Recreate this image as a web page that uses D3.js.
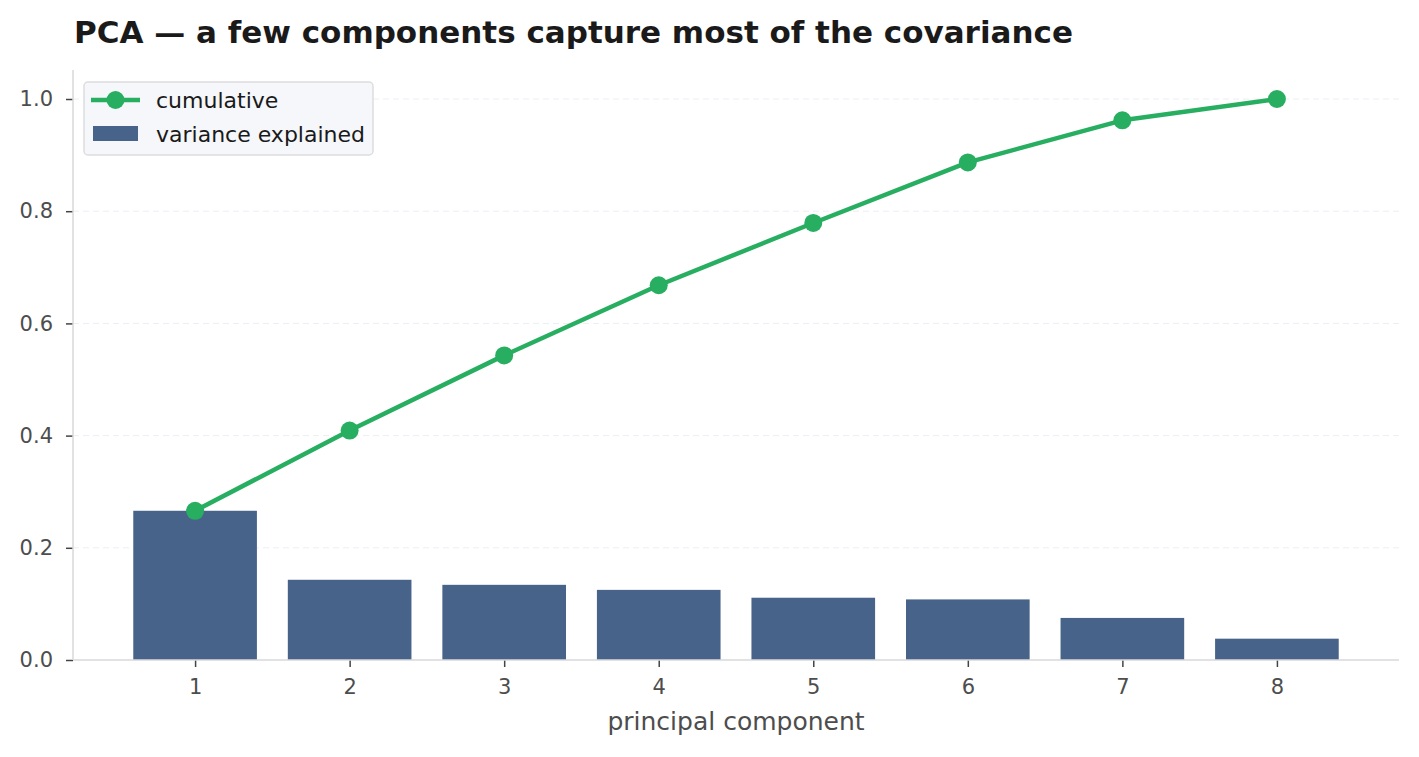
<!DOCTYPE html>
<html><head><meta charset="utf-8">
<script src="https://cdn.jsdelivr.net/npm/d3@7"></script>
<style>
body{margin:0;background:#fff;}
text{font-family:"DejaVu Sans",sans-serif;}
</style></head>
<body><svg id="c" width="1419" height="757"></svg>
<script>
const components = [1,2,3,4,5,6,7,8];
const varianceExplained = [0.266,0.143,0.134,0.125,0.111,0.108,0.075,0.038];
const cumulative = Array.from(d3.cumsum(varianceExplained));
const yTicks = [0.0,0.2,0.4,0.6,0.8,1.0];

const svg = d3.select("#c");
const L=73, R=1399, T=70, B=660;
const x = d3.scaleLinear().domain([0.21,8.79]).range([L,R]);
const y = d3.scaleLinear().domain([0,1.0517]).range([B,T]);
const bw = x(1.8)-x(1);

// grid
svg.append("g").selectAll("line").data(yTicks.slice(1)).join("line")
  .attr("x1",L).attr("x2",R).attr("y1",d=>y(d)).attr("y2",d=>y(d))
  .attr("stroke","#eceef3").attr("stroke-width",1).attr("stroke-dasharray","6,4");

// bars
svg.append("g").selectAll("rect").data(varianceExplained).join("rect")
  .attr("x",(d,i)=>x(components[i])-bw/2).attr("width",bw)
  .attr("y",d=>y(d)).attr("height",d=>y(0)-y(d)).attr("fill","#476389");

// axes
const yAxis = svg.append("g").attr("transform",`translate(${L},0)`)
  .call(d3.axisLeft(y).tickValues(yTicks).tickFormat(d3.format(".1f")).tickSizeOuter(0).tickSize(7).tickPadding(13));
const xAxis = svg.append("g").attr("transform",`translate(0,${B})`)
  .call(d3.axisBottom(x).tickValues(components).tickFormat(d3.format("d")).tickSizeOuter(0).tickSize(7).tickPadding(12));
[yAxis,xAxis].forEach(a=>{
  a.select(".domain").remove();
  a.selectAll(".tick line").attr("stroke","#444").attr("stroke-width",1.5);
  a.selectAll(".tick text").attr("fill","#4d4d4d").style("font-size","21px");
});
svg.append("line").attr("x1",L).attr("x2",L).attr("y1",T).attr("y2",B).attr("stroke","#d9d9dd").attr("stroke-width",1.5);
svg.append("line").attr("x1",L).attr("x2",R).attr("y1",B).attr("y2",B).attr("stroke","#d9d9dd").attr("stroke-width",1.5);

// cumulative line
const line = d3.line().x((d,i)=>x(components[i])).y(d=>y(d));
svg.append("path").datum(cumulative).attr("d",line).attr("fill","none")
  .attr("stroke","#27ae60").attr("stroke-width",4.5).attr("stroke-linejoin","round");
svg.append("g").selectAll("circle").data(cumulative).join("circle")
  .attr("cx",(d,i)=>x(components[i])).attr("cy",d=>y(d)).attr("r",9).attr("fill","#27ae60");

// labels
svg.append("text").attr("x",(L+R)/2).attr("y",730).attr("text-anchor","middle")
  .attr("fill","#4d4d4d").style("font-size","25px").text("principal component");
svg.append("text").attr("x",74).attr("y",43).attr("fill","#1a1a1a")
  .style("font-size","31px").style("font-weight","bold")
  .text("PCA \u2014 a few components capture most of the covariance");

// legend
const lg = svg.append("g");
lg.append("rect").attr("x",84).attr("y",82).attr("width",289).attr("height",73).attr("rx",4)
  .attr("fill","#f5f7fa").attr("stroke","#dddde0").attr("stroke-width",1.5);
lg.append("line").attr("x1",91).attr("x2",140).attr("y1",100).attr("y2",100).attr("stroke","#27ae60").attr("stroke-width",4.5);
lg.append("circle").attr("cx",115.5).attr("cy",100).attr("r",9).attr("fill","#27ae60");
lg.append("rect").attr("x",93).attr("y",126).attr("width",45).attr("height",15).attr("fill","#476389");
lg.append("text").attr("x",156).attr("y",108).attr("fill","#1a1a1a").style("font-size","22px").text("cumulative");
lg.append("text").attr("x",156).attr("y",142).attr("fill","#1a1a1a").style("font-size","22px").text("variance explained");
</script></body></html>
